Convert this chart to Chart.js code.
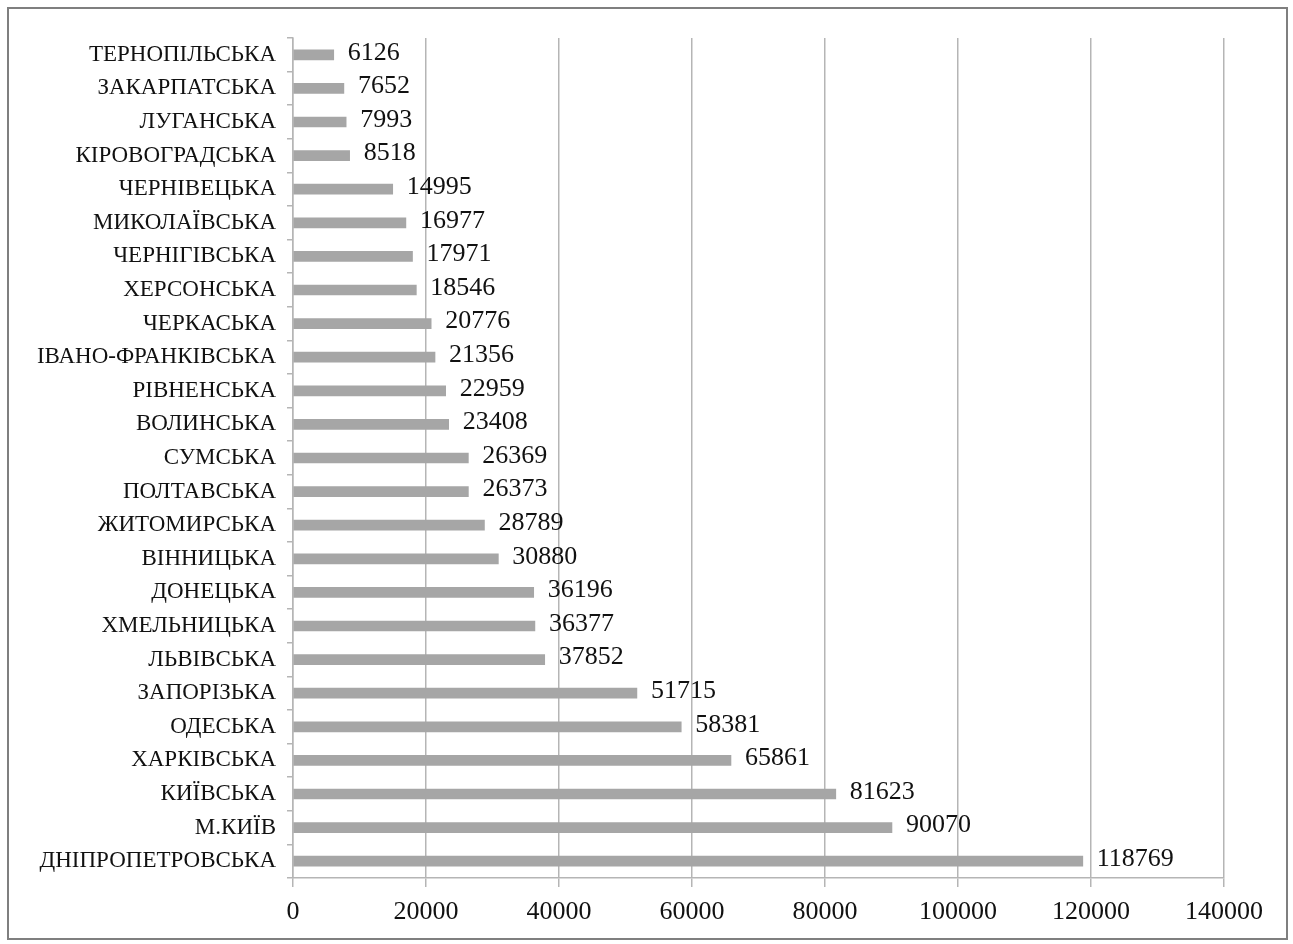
<!DOCTYPE html>
<html>
<head>
<meta charset="utf-8">
<script src="https://cdn.jsdelivr.net/npm/chart.js@4"></script>
<style>
  html, body { margin: 0; padding: 0; background: #fff; }
  #wrap { position: relative; width: 1293px; height: 944px; }
</style>
</head>
<body>
<div id="wrap"><canvas id="regionChart"></canvas></div>
<script>
// області (зверху вниз)
const regions = [
  'ТЕРНОПІЛЬСЬКА', 'ЗАКАРПАТСЬКА', 'ЛУГАНСЬКА', 'КІРОВОГРАДСЬКА', 'ЧЕРНІВЕЦЬКА',
  'МИКОЛАЇВСЬКА', 'ЧЕРНІГІВСЬКА', 'ХЕРСОНСЬКА', 'ЧЕРКАСЬКА', 'ІВАНО-ФРАНКІВСЬКА',
  'РІВНЕНСЬКА', 'ВОЛИНСЬКА', 'СУМСЬКА', 'ПОЛТАВСЬКА', 'ЖИТОМИРСЬКА',
  'ВІННИЦЬКА', 'ДОНЕЦЬКА', 'ХМЕЛЬНИЦЬКА', 'ЛЬВІВСЬКА', 'ЗАПОРІЗЬКА',
  'ОДЕСЬКА', 'ХАРКІВСЬКА', 'КИЇВСЬКА', 'М.КИЇВ', 'ДНІПРОПЕТРОВСЬКА'
];
const values = [
  6126, 7652, 7993, 8518, 14995,
  16977, 17971, 18546, 20776, 21356,
  22959, 23408, 26369, 26373, 28789,
  30880, 36196, 36377, 37852, 51715,
  58381, 65861, 81623, 90070, 118769
];
const xTicks = [0, 20000, 40000, 60000, 80000, 100000, 120000, 140000];

const serif = "'Liberation Serif', 'DejaVu Serif', serif";

// рамка навколо всього рисунка
const frame = {
  id: 'frame',
  beforeDraw(chart) {
    const c = chart.ctx;
    c.save();
    c.fillStyle = '#fff';
    c.fillRect(0, 0, chart.width, chart.height);
    c.strokeStyle = '#7f7f7f';
    c.lineWidth = 2;
    c.strokeRect(8, 8, chart.width - 14, chart.height - 13);
    c.restore();
  }
};

// підписи значень праворуч від стовпчиків
const valueLabels = {
  id: 'valueLabels',
  afterDatasetsDraw(chart) {
    const c = chart.ctx;
    const meta = chart.getDatasetMeta(0);
    c.save();
    c.font = '26px ' + serif;
    c.fillStyle = '#111';
    c.textAlign = 'left';
    c.textBaseline = 'middle';
    meta.data.forEach((bar, i) => {
      c.fillText(String(values[i]), bar.x + 14, bar.y - 2);
    });
    c.restore();
  }
};

const ctx = document.getElementById('regionChart');
new Chart(ctx, {
  type: 'bar',
  data: {
    labels: regions,
    datasets: [{
      data: values,
      backgroundColor: '#a6a6a6',
      borderWidth: 0,
      barThickness: 10
    }]
  },
  options: {
    indexAxis: 'y',
    responsive: true,
    maintainAspectRatio: false,
    animation: false,
    layout: { padding: { top: 38, right: 69, bottom: 0, left: 0 } },
    plugins: {
      legend: { display: false },
      tooltip: { enabled: false }
    },
    scales: {
      x: {
        min: 0,
        max: 140000,
        afterBuildTicks: (scale) => { scale.ticks = xTicks.map(v => ({ value: v })); },
        afterFit: (scale) => { scale.height = 66; },
        grid: {
          color: '#b5b5b5',
          lineWidth: 1.5,
          tickLength: 9,
          tickColor: '#b5b5b5'
        },
        border: { color: '#b5b5b5', width: 1.5 },
        ticks: {
          color: '#111',
          padding: 10,
          maxRotation: 0,
          callback: (v) => String(v),
          font: { family: serif, size: 26 }
        }
      },
      y: {
        afterFit: (scale) => { scale.width = 293; },
        grid: {
          drawOnChartArea: false,
          tickLength: 6,
          tickColor: '#b5b5b5',
          lineWidth: 1.5
        },
        border: { color: '#b5b5b5', width: 1.5 },
        ticks: {
          color: '#111',
          padding: 11,
          autoSkip: false,
          font: { family: serif, size: 23 }
        }
      }
    }
  },
  plugins: [frame, valueLabels]
});
</script>
</body>
</html>
